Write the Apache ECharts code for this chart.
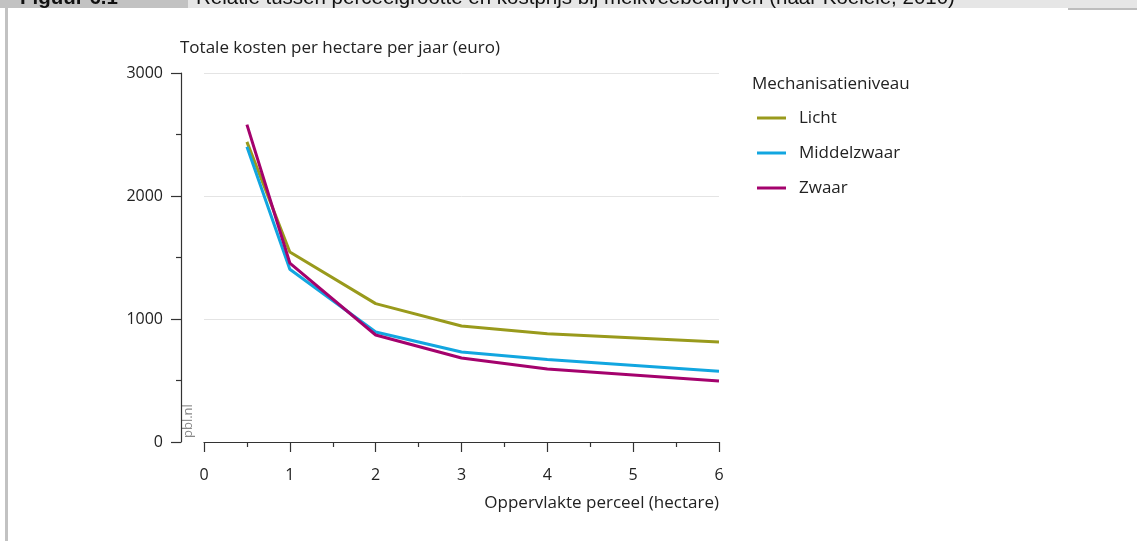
<!DOCTYPE html>
<html>
<head>
<meta charset="utf-8">
<script src="https://cdn.jsdelivr.net/npm/echarts@6/dist/echarts.min.js"></script>
<style>
html,body{margin:0;padding:0;background:#fff;}
#c{width:1137px;height:541px;}
</style>
</head>
<body>
<div id="c"></div>
<script>
var xValues = [0.5, 1, 2, 3, 4, 6];
var licht = [2440, 1545, 1125, 943, 880, 813];
var middelzwaar = [2400, 1405, 894, 732, 670, 575];
var zwaar = [2580, 1455, 870, 683, 593, 496];
var seriesNames = ['Licht', 'Middelzwaar', 'Zwaar'];
var seriesColors = ['#999a1c', '#12a6e0', '#a4026d'];
var xTicks = [0, 1, 2, 3, 4, 5, 6];
var yTicks = [0, 1000, 2000, 3000];

var FONT = '"Open Sans", "Noto Sans", sans-serif';
function pairs(vals){ return xValues.map(function(x,i){ return [x, vals[i]]; }); }
var allVals = [licht, middelzwaar, zwaar];

var chart = echarts.init(document.getElementById('c'));
chart.setOption({
  animation: false,
  backgroundColor: '#fff',
  textStyle: {fontFamily: FONT},
  grid: {left: 204, right: 1137 - 719, top: 73, bottom: 99, containLabel: false},
  xAxis: {
    type: 'value', min: xTicks[0], max: xTicks[xTicks.length - 1], interval: 1,
    axisLine: {show: true, onZero: false, lineStyle: {color: '#333', width: 1.2}},
    axisTick: {show: true, length: 10, lineStyle: {color: '#333', width: 1.2}},
    minorTick: {show: true, splitNumber: 2, length: 5, lineStyle: {color: '#333', width: 1.2}},
    splitLine: {show: false},
    axisLabel: {margin: 25, fontSize: 16, color: '#222', fontFamily: FONT, formatter: function(v){ return String(v); }}
  },
  yAxis: {
    type: 'value', min: yTicks[0], max: yTicks[yTicks.length - 1], interval: 1000,
    offset: 23,
    axisLine: {show: true, onZero: false, lineStyle: {color: '#333', width: 1.2}},
    axisTick: {show: true, length: 10, lineStyle: {color: '#333', width: 1.2}},
    minorTick: {show: true, splitNumber: 2, length: 5, lineStyle: {color: '#333', width: 1.2}},
    splitLine: {show: true, lineStyle: {color: '#e4e4e4', width: 1}},
    axisLabel: {margin: 18, fontSize: 16, color: '#222', fontFamily: FONT, formatter: function(v){ return String(v); }}
  },
  legend: {
    orient: 'vertical', left: 752, top: 102,
    icon: 'rect', itemWidth: 29, itemHeight: 3, itemGap: 13,
    data: seriesNames,
    textStyle: {fontSize: 17, color: '#222', fontFamily: FONT, lineHeight: 22, padding: [0, 0, 0, 8]}
  },
  series: seriesNames.map(function(n, i){
    return {
      name: n, type: 'line', data: pairs(allVals[i]),
      showSymbol: false, symbol: 'none',
      lineStyle: {color: seriesColors[i], width: 3},
      itemStyle: {color: seriesColors[i]}
    };
  }),
  graphic: [
    {type: 'rect', shape: {x: 0, y: 0, width: 188, height: 8}, style: {fill: '#c2c2c2'}},
    {type: 'rect', shape: {x: 188, y: 0, width: 949, height: 8}, style: {fill: '#e6e6e6'}},
    {type: 'rect', shape: {x: 1068, y: 8, width: 69, height: 2}, style: {fill: '#bdbdbd'}},
    {type: 'rect', shape: {x: 5, y: 8, width: 3, height: 533}, style: {fill: '#c2c2c2'}},
    {type: 'text', x: 20, y: 9, style: {text: 'Figuur 6.1', font: 'bold 20.5px "Liberation Sans", Arial, sans-serif', fill: '#111', verticalAlign: 'bottom'}},
    {type: 'text', x: 196, y: 9, style: {text: 'Relatie tussen perceelgrootte en kostprijs bij melkveebedrijven (naar Koeleie, 2010)', font: '20.5px "Liberation Sans", Arial, sans-serif', fill: '#111', verticalAlign: 'bottom'}},
    {type: 'text', x: 180, y: 48, style: {text: 'Totale kosten per hectare per jaar (euro)', font: '17px ' + FONT, fill: '#222', verticalAlign: 'middle'}},
    {type: 'text', x: 719, y: 503, style: {text: 'Oppervlakte perceel (hectare)', font: '17px ' + FONT, fill: '#222', align: 'right', verticalAlign: 'middle'}},
    {type: 'text', x: 752, y: 84, style: {text: 'Mechanisatieniveau', font: '17px ' + FONT, fill: '#222', verticalAlign: 'middle'}},
    {type: 'text', x: 188, y: 438, rotation: Math.PI / 2, style: {text: 'pbl.nl', font: '13px ' + FONT, fill: '#888', verticalAlign: 'middle'}}
  ]
});
</script>
</body>
</html>
